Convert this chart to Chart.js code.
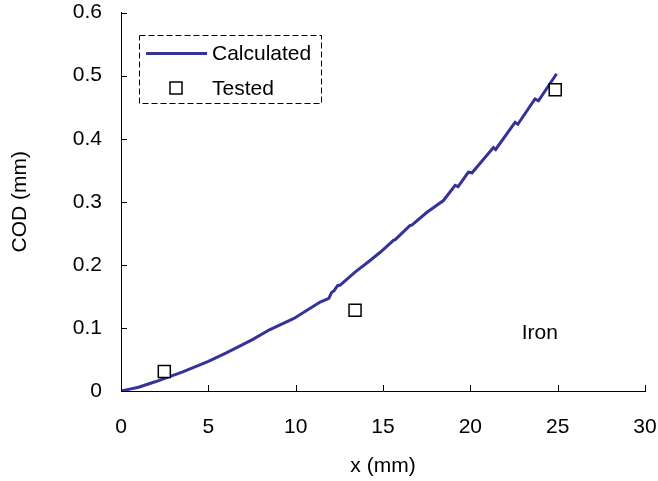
<!DOCTYPE html>
<html>
<head>
    <meta charset="UTF-8">
    <title>COD vs x</title>
    <script src="https://cdn.jsdelivr.net/npm/chart.js"></script>
    <style>
        body {
            margin: 0;
            background-color: white;
        }
        canvas {
            display: block;
        }
    </style>
</head>
<body>
    <canvas id="codChart" width="658" height="481"></canvas>

    <script>
        // Curva calculada (x em mm, COD em mm)
        const calcX = [0, 0.5, 1, 2, 2.5, 3.5, 5, 6, 7.5, 8.5, 9.9, 11.4, 11.9, 12.05, 12.2, 12.4, 12.55,
            13.4, 14.26, 14.84, 15.6, 15.7, 16.55, 16.65, 17.5, 18.46, 19.13, 19.3, 19.89, 20.1,
            21.32, 21.45, 22.56, 22.72, 23.7, 23.9, 24.94];
        const calcY = [0, 0.003, 0.006, 0.015, 0.020, 0.030, 0.047, 0.060, 0.081, 0.097, 0.115, 0.141, 0.147, 0.156, 0.159, 0.167, 0.168,
            0.1885, 0.207, 0.220, 0.239, 0.240, 0.2625, 0.263, 0.283, 0.302, 0.326, 0.324, 0.347, 0.346,
            0.386, 0.383, 0.426, 0.423, 0.463, 0.460, 0.503];

        // Pontos ensaiados
        const testX = [2.48, 13.4, 24.86];
        const testY = [0.031, 0.128, 0.4775];

        const xTicks = [0, 5, 10, 15, 20, 25, 30];
        const yTickLabels = ['0', '0.1', '0.2', '0.3', '0.4', '0.5', '0.6'];
        const noteText = 'Iron';

        const FONT = '"Liberation Sans", Arial, sans-serif';
        const FONT_SIZE = 21;

        // Marcas de escala voltadas para dentro
        const innerTicks = {
            id: 'innerTicks',
            afterDraw(chart) {
                const ctx = chart.ctx;
                const {x, y} = chart.scales;
                ctx.save();
                ctx.strokeStyle = '#000';
                ctx.lineWidth = 1;
                ctx.beginPath();
                x.ticks.forEach(t => {
                    const px = Math.round(x.getPixelForValue(t.value)) + 0.5;
                    ctx.moveTo(px, x.top);
                    ctx.lineTo(px, x.top - 6);
                });
                y.ticks.forEach(t => {
                    const py = Math.round(y.getPixelForValue(t.value)) + 0.5;
                    ctx.moveTo(y.right, py);
                    ctx.lineTo(y.right + 6, py);
                });
                ctx.stroke();
                ctx.restore();
            }
        };

        // Legenda com borda tracejada e a anotação "Iron"
        const boxLegend = {
            id: 'boxLegend',
            afterDraw(chart) {
                const ctx = chart.ctx;
                const ds = chart.data.datasets;
                ctx.save();
                ctx.font = FONT_SIZE + 'px ' + FONT;
                ctx.fillStyle = '#000';
                ctx.textBaseline = 'middle';

                ctx.strokeStyle = '#000';
                ctx.lineWidth = 1;
                ctx.setLineDash([6, 3]);
                ctx.strokeRect(139.5, 35.5, 182, 68);
                ctx.setLineDash([]);

                // linha calculada
                ctx.strokeStyle = ds[0].borderColor;
                ctx.lineWidth = ds[0].borderWidth;
                ctx.beginPath();
                ctx.moveTo(146, 53.5);
                ctx.lineTo(207, 53.5);
                ctx.stroke();
                ctx.fillText(ds[0].label, 212, 54);

                // marcador ensaiado
                ctx.strokeStyle = ds[1].borderColor;
                ctx.lineWidth = ds[1].borderWidth;
                ctx.fillStyle = '#fff';
                ctx.fillRect(170, 82, 12, 12);
                ctx.strokeRect(170, 82, 12, 12);
                ctx.fillStyle = '#000';
                ctx.fillText(ds[1].label, 212, 89);

                // anotação do material
                const {x, y} = chart.scales;
                ctx.textBaseline = 'alphabetic';
                ctx.fillText(noteText, x.getPixelForValue(22.94), y.getPixelForValue(0.082));
                ctx.restore();
            }
        };

        new Chart(document.getElementById('codChart'), {
            type: 'scatter',
            data: {
                datasets: [
                    {
                        label: 'Calculated',
                        data: calcX.map((v, i) => ({x: v, y: calcY[i]})),
                        showLine: true,
                        borderColor: '#333399',
                        borderWidth: 3,
                        pointRadius: 0,
                        tension: 0,
                        order: 2
                    },
                    {
                        label: 'Tested',
                        data: testX.map((v, i) => ({x: v, y: testY[i]})),
                        pointStyle: 'rect',
                        pointRadius: 8.5,
                        pointBackgroundColor: '#fff',
                        borderColor: '#000',
                        borderWidth: 1.5,
                        order: 1
                    }
                ]
            },
            options: {
                responsive: false,
                animation: false,
                layout: {
                    padding: {top: 12, right: 13, left: 0, bottom: 0}
                },
                plugins: {
                    legend: {display: false},
                    tooltip: {enabled: false}
                },
                scales: {
                    x: {
                        type: 'linear',
                        min: 0,
                        max: 30,
                        afterBuildTicks: scale => {
                            scale.ticks = xTicks.map(v => ({value: v}));
                        },
                        afterFit: scale => { scale.height = 90; },
                        // marcas invisíveis servem só de afastamento dos rótulos
                        grid: {display: true, drawOnChartArea: false, drawTicks: true, tickLength: 24, tickColor: 'rgba(0,0,0,0)'},
                        border: {color: '#000', width: 1},
                        ticks: {
                            color: '#000',
                            padding: 0,
                            font: {family: FONT, size: FONT_SIZE},
                            callback: v => String(v)
                        },
                        title: {
                            display: true,
                            text: 'x (mm)',
                            color: '#000',
                            padding: {top: 0, bottom: 2},
                            font: {family: FONT, size: FONT_SIZE, lineHeight: 1.2}
                        }
                    },
                    y: {
                        type: 'linear',
                        min: 0,
                        max: 0.6,
                        afterBuildTicks: scale => {
                            scale.ticks = yTickLabels.map((l, i) => ({value: i * 0.1}));
                        },
                        afterFit: scale => { scale.width = 121; },
                        grid: {display: true, drawOnChartArea: false, drawTicks: true, tickLength: 19, tickColor: 'rgba(0,0,0,0)'},
                        border: {color: '#000', width: 1},
                        ticks: {
                            color: '#000',
                            padding: 0,
                            font: {family: FONT, size: FONT_SIZE},
                            callback: (v, i) => yTickLabels[i]
                        },
                        title: {
                            display: true,
                            text: 'COD (mm)',
                            color: '#000',
                            padding: {top: 8, bottom: 0},
                            font: {family: FONT, size: FONT_SIZE, lineHeight: 1.2}
                        }
                    }
                }
            },
            plugins: [innerTicks, boxLegend]
        });
    </script>
</body>
</html>
